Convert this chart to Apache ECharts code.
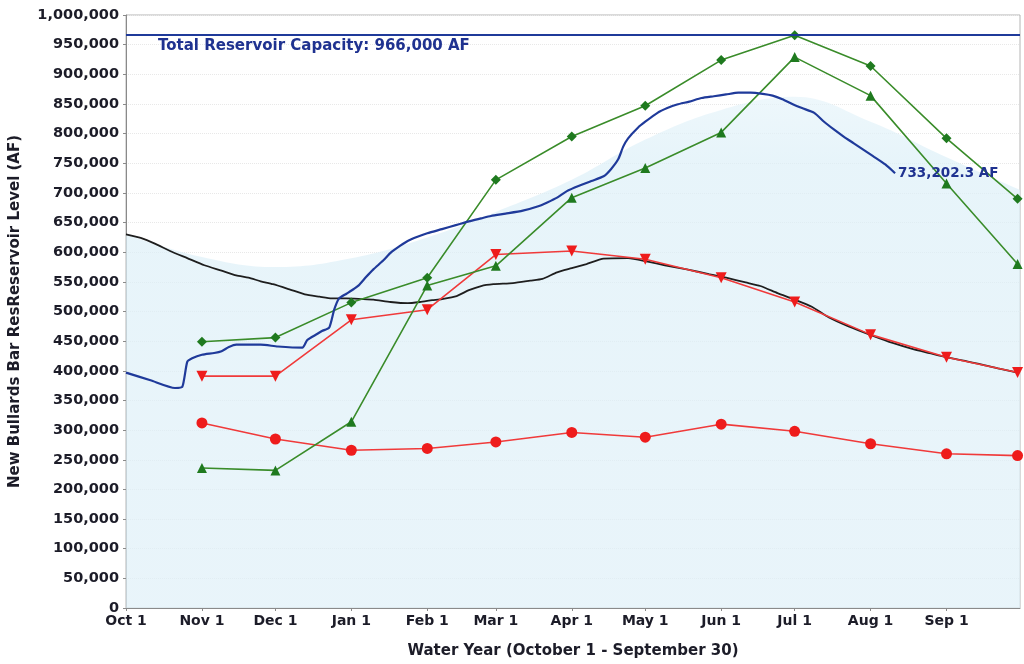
<!DOCTYPE html>
<html>
<head>
<meta charset="utf-8">
<script src="https://cdn.jsdelivr.net/npm/echarts@6/dist/echarts.min.js"></script>
<style>
html,body{margin:0;padding:0;background:#fff;}
#chart{width:1024px;height:664px;}
</style>
</head>
<body>
<div id="chart"></div>
<script>
// ---- x axis: day of water year (Oct 1 = 0) ----
const monthDays = [0, 31, 61, 92, 123, 151, 182, 212, 243, 273, 304, 335];
const monthLabels = ['Oct 1','Nov 1','Dec 1','Jan 1','Feb 1','Mar 1','Apr 1','May 1','Jun 1','Jul 1','Aug 1','Sep 1'];

// ---- forecast points (1st of month + Sep 30) ----
const forecastDays = [31, 61, 92, 123, 151, 182, 212, 243, 273, 304, 335, 364];
const greenDiamond = [449000, 456000, 515000, 557000, 722000, 795000, 847000, 924000, 966000, 914000, 792000, 690000];
const greenTriangle = [236000, 232000, 314000, 544000, 577000, 692000, 742000, 802000, 929000, 864000, 716000, 580000];
const redTriangle = [391000, 391000, 486000, 503000, 596000, 602000, 588000, 557000, 516000, 461000, 423000, 397000];
const redCircle = [312000, 285000, 266000, 269000, 280000, 296000, 288000, 310000, 298000, 277000, 260000, 257000];

// ---- current water year storage ----
const currentDays = [0,10,20,23,25,27,31,36,39,42,45,55,62,72,74,78,80,83,85,87,90,93,95,98,101,105,108,112,115,119,123,129,135,140,145,149,155,162,168,172,176,180,185,190,195,198,201,203,205,209,212,217,221,225,230,235,240,245,250,255,260,264,268,272,276,281,285,289,293,297,301,305,310,314];
const currentVals = [397000,384000,371000,373000,415000,421000,427000,430000,433000,440000,444000,444000,441000,439000,452000,462000,467000,473000,503000,522000,530000,538000,544000,558000,571000,586000,599000,611000,619000,626000,632000,639000,646000,652000,657000,661000,665000,670000,677000,684000,692000,703000,712000,720000,728000,740000,757000,778000,792000,810000,820000,835000,843000,849000,854000,860000,863000,866000,869000,869000,867000,864000,858000,850000,843000,835000,820000,807000,795000,784000,773000,762000,748000,733202.3];

// ---- average storage ----
const avgDays = [0,6,12,18,25,32,39,45,50,55,60,67,73,79,84,90,96,101,108,115,120,125,129,135,140,145,150,158,165,170,176,182,188,195,205,213,220,229,238,245,253,259,266,273,280,287,295,305,313,321,328,335,342,349,356,364];
const avgVals = [630000,624000,614000,602000,590000,578000,569000,561000,557000,551000,546000,537000,529000,525000,522000,522000,521000,520000,516000,514000,516000,519000,521000,526000,536000,543000,546000,548000,552000,555000,566000,573000,580000,589000,590000,584000,578000,571000,563000,557000,549000,543000,531000,520000,508000,490000,475000,459000,447000,437000,430000,423000,417000,411000,404000,397000];

// ---- background envelope ----
const envDays = [0, 31, 61, 92, 123, 151, 182, 212, 243, 273, 304, 335, 365];
const envVals = [630000, 592000, 575000, 590000, 625000, 668000, 722000, 790000, 840000, 862000, 820000, 760000, 705000];

const capacity = 966000;
const yTicks = {min: 0, max: 1000000, interval: 50000};

const zip = (xs, ys) => xs.map((x, i) => [x, ys[i]]);
const fmt = v => Number(v).toLocaleString('en-US');
const FONT = 'DejaVu Sans';
const TXT = '#1c1c28';

const chart = echarts.init(document.getElementById('chart'), null, {renderer: 'canvas'});
chart.setOption({
  animation: false,
  backgroundColor: '#ffffff',
  grid: {left: 124, right: 4, top: 15, bottom: 54, show: true, borderColor: '#b4b4b4', borderWidth: 1, backgroundColor: 'transparent'},
  xAxis: {
    type: 'value', min: 0, max: 365,
    name: 'Water Year (October 1 - September 30)', nameLocation: 'middle', nameGap: 36,
    nameTextStyle: {fontFamily: FONT, fontWeight: 'bold', fontSize: 15, color: TXT},
    axisLine: {show: true, lineStyle: {color: '#8a8a8a', width: 1}},
    axisTick: {show: true, customValues: monthDays, length: 3, lineStyle: {color: '#8a8a8a'}},
    axisLabel: {customValues: monthDays, formatter: v => monthLabels[monthDays.indexOf(v)] || '',
      fontFamily: FONT, fontWeight: 'bold', fontSize: 14, color: TXT, margin: 6},
    splitLine: {show: false}
  },
  yAxis: {
    type: 'value', min: yTicks.min, max: yTicks.max, interval: yTicks.interval,
    name: 'New Bullards Bar ResReservoir Level (AF)', nameLocation: 'middle', nameGap: 103,
    nameTextStyle: {fontFamily: FONT, fontWeight: 'bold', fontSize: 15, color: TXT},
    axisLine: {show: true, lineStyle: {color: '#8a8a8a', width: 1}},
    axisTick: {show: true, length: 3, lineStyle: {color: '#8a8a8a'}},
    axisLabel: {formatter: v => fmt(v), fontFamily: FONT, fontWeight: 'bold', fontSize: 14.5, color: TXT, margin: 7},
    splitLine: {show: true, lineStyle: {color: '#e8e8e8', type: 'dotted', width: 1}}
  },
  series: [
    {
      type: 'line', data: zip(envDays, envVals), smooth: 0.4, symbol: 'none', silent: true,
      lineStyle: {width: 0}, z: 1,
      areaStyle: {color: new echarts.graphic.LinearGradient(0, 0, 0, 1, [
        {offset: 0, color: '#e6f4fa'}, {offset: 0.12, color: '#ddf0f8'}, {offset: 1, color: '#dff0f8'}
      ])}
    },
    {
      type: 'line', data: zip(avgDays, avgVals), symbol: 'none', smooth: 0.2, z: 3,
      lineStyle: {color: '#1e1e1e', width: 1.8}
    },
    {
      type: 'line', data: zip(forecastDays, redCircle), symbol: 'circle', symbolSize: 11, z: 4,
      lineStyle: {color: '#f03a3a', width: 1.6}, itemStyle: {color: '#ee1c1c'}
    },
    {
      type: 'line', data: zip(forecastDays, redTriangle), symbol: 'triangle', symbolRotate: 180, symbolSize: 11, z: 4,
      lineStyle: {color: '#f03a3a', width: 1.6}, itemStyle: {color: '#ee1c1c'}
    },
    {
      type: 'line', data: zip(forecastDays, greenTriangle), symbol: 'triangle', symbolSize: 10, z: 4,
      lineStyle: {color: '#3a8c2a', width: 1.6}, itemStyle: {color: '#1f7a1f'}
    },
    {
      type: 'line', data: zip(forecastDays, greenDiamond), symbol: 'diamond', symbolSize: 10, z: 4,
      lineStyle: {color: '#3a8c2a', width: 1.6}, itemStyle: {color: '#1f7a1f'}
    },
    {
      type: 'line', data: zip(currentDays, currentVals), symbol: 'none', smooth: 0.2, z: 5,
      lineStyle: {color: '#1f3a9a', width: 2.2},
      endLabel: {show: true, formatter: p => p.value[1].toLocaleString('en-US', {minimumFractionDigits: 1}) + ' AF',
        fontFamily: FONT, fontWeight: 'bold', fontSize: 13.5, color: '#1f3290', distance: 3},
      markLine: {
        silent: true, symbol: 'none', animation: false,
        lineStyle: {color: '#1f3a9a', width: 2, type: 'solid'},
        label: {show: true, position: 'insideStartBottom', distance: [32, 3],
          formatter: () => 'Total Reservoir Capacity: ' + fmt(capacity) + ' AF',
          fontFamily: FONT, fontWeight: 'bold', fontSize: 15, color: '#1f3290'},
        data: [{yAxis: capacity}]
      }
    }
  ]
});
</script>
</body>
</html>
